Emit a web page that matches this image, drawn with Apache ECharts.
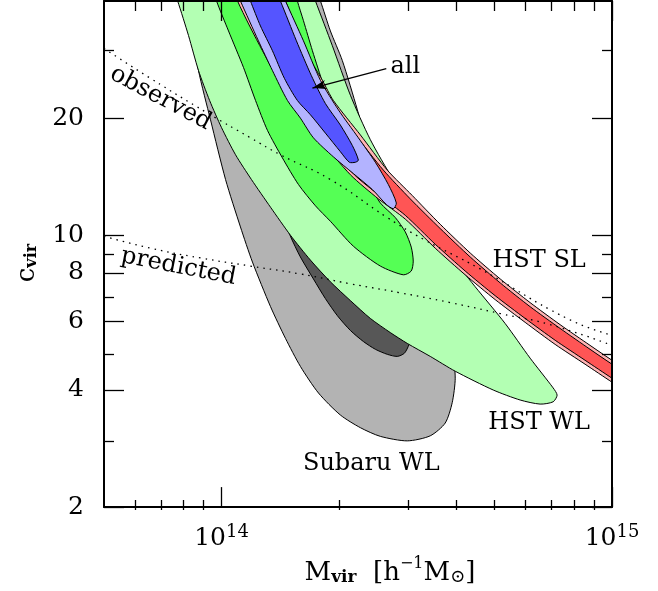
<!DOCTYPE html>
<html><head><meta charset="utf-8">
<script src="https://cdn.jsdelivr.net/npm/echarts@6/dist/echarts.min.js"></script>
<style>html,body{margin:0;padding:0;background:#fff}#c{width:658px;height:591px}</style>
</head><body><div id="c"></div>
<script>
// ---- data (M in units of 1e14 h^-1 Msun, c_vir) ----
const MASS_UNIT = 1e14;
const xMin = 5e13, xMax = 1e15, yMin = 2, yMax = 40;
const yMajorTicks = [2, 4, 6, 8, 10, 20];
const yMinorTicks = [3, 5, 7, 9, 30];
const xMajorTicks = [1e14, 1e15];
const xMinorTicks = [6e13, 7e13, 8e13, 9e13, 2e14, 3e14, 4e14, 5e14, 6e14, 7e14, 8e14, 9e14];

const subaruOuterM = [0.799, 0.828, 0.848, 0.873, 0.937, 1.024, 1.118, 1.200, 1.335, 1.458, 1.592, 1.771, 2.015, 2.268, 2.551, 2.990, 3.424, 3.740, 3.897, 3.967, 3.897, 3.631, 3.325, 2.955, 2.627, 2.377, 2.228, 2.039, 1.900, 1.792, 1.660];
const subaruOuterC = [49.1, 40, 32.6, 26.5, 19.8, 13.9, 10.5, 8.53, 6.55, 5.43, 4.60, 3.93, 3.45, 3.20, 3.04, 2.96, 3.05, 3.29, 3.71, 4.29, 5.12, 6.48, 8.19, 10.4, 13.1, 16.6, 21.0, 28.1, 33.5, 40, 49.1];
const subaruInnerM = [1.501, 1.592, 1.719, 1.845, 1.980, 2.138, 2.308, 2.477, 2.658, 2.819, 2.938, 3.008, 3.043, 2.904, 2.627, 2.268, 1.957, 1.689, 1.484, 1.350, 1.319, 1.374];
const subaruInnerC = [9.94, 8.79, 7.72, 6.87, 6.21, 5.69, 5.33, 5.09, 4.94, 4.88, 4.97, 5.18, 5.43, 6.48, 7.95, 9.77, 11.65, 13.5, 15.2, 15.6, 14.7, 12.4];
const hstwlOuterM = [0.719, 0.772, 0.823, 0.873, 0.932, 1.000, 1.086, 1.193, 1.335, 1.501, 1.689, 1.900, 2.138, 2.405, 2.705, 2.990, 3.424, 3.967, 4.963, 5.818, 6.545, 7.067, 7.235, 7.067, 6.170, 5.325, 4.463, 3.740, 3.190, 2.754, 2.405, 2.138, 1.922, 1.740, 1.611];
const hstwlOuterC = [49.1, 40.0, 32.6, 26.5, 22.2, 18.9, 16.1, 13.9, 11.8, 10.0, 8.63, 7.59, 6.79, 6.11, 5.62, 5.27, 4.88, 4.47, 4.00, 3.77, 3.68, 3.73, 3.88, 4.05, 4.83, 5.93, 7.37, 9.21, 11.3, 13.9, 17.6, 22.9, 30.7, 40.0, 49.1];
const hstwlInnerM = [0.910, 0.971, 1.042, 1.138, 1.222, 1.311, 1.432, 1.574, 1.740, 1.900, 2.176, 2.551, 2.921, 3.061, 3.097, 3.061, 2.955, 2.786, 2.551, 2.377, 2.202, 2.051, 1.934, 1.824, 1.709, 1.621, 1.564, 1.484];
const hstwlInnerC = [49.1, 40, 33.5, 27.0, 22.2, 18.6, 15.8, 13.5, 11.9, 10.86, 9.37, 8.33, 7.91, 8.09, 8.58, 9.32, 10.2, 11.1, 12.1, 13.65, 15.2, 17.6, 20.4, 24.3, 29.8, 35.6, 40, 49.1];
const hstslOuterM = [1.024, 1.099, 1.273, 1.501, 1.792, 2.138, 2.521, 2.955, 3.526, 4.207, 5.021, 5.992, 7.151, 8.531, 10, 11.80, 11.80, 10, 8.785, 7.362, 6.170, 5.172, 4.334, 3.631, 3.079, 2.658, 2.268, 1.934, 1.813, 1.640, 1.458, 1.335];
const hstslOuterC = [49.1, 40, 29.8, 22.2, 17.6, 14.3, 12.4, 11.0, 9.26, 7.91, 6.83, 5.97, 5.24, 4.66, 4.19, 3.77, 4.29, 4.77, 5.21, 5.89, 6.71, 7.72, 9.00, 10.67, 12.65, 14.7, 18.1, 22.2, 25.0, 29.8, 40, 49.1];
const hstslInnerM = [1.061, 1.138, 1.319, 1.537, 1.834, 2.189, 2.551, 2.955, 3.526, 4.207, 5.021, 5.992, 7.151, 8.531, 10, 11.80, 11.80, 10, 8.785, 7.362, 6.170, 5.172, 4.334, 3.631, 3.043, 2.597, 2.202, 1.878, 1.771, 1.611, 1.432, 1.311];
const hstslInnerC = [49.1, 40, 29.8, 22.2, 17.6, 14.3, 12.6, 11.25, 9.48, 8.09, 6.99, 6.11, 5.37, 4.77, 4.29, 3.86, 4.19, 4.66, 5.09, 5.76, 6.55, 7.54, 8.79, 10.4, 12.4, 14.7, 18.1, 22.2, 25.0, 29.8, 40, 49.1];
const allOuterM = [1.335, 1.458, 1.621, 1.792, 1.992, 2.241, 2.477, 2.674, 2.803, 2.754, 2.642, 2.434, 2.176, 1.934, 1.719, 1.592, 1.475, 1.350, 1.243, 1.118, 1.024];
const allOuterC = [49.1, 40, 31.6, 25.0, 21.0, 17.8, 15.4, 13.5, 12.1, 11.7, 12.0, 13.1, 14.4, 15.9, 17.8, 20.0, 22.2, 26.5, 31.6, 40, 49.1];
const allInnerM = [1.296, 1.415, 1.555, 1.699, 1.845, 2.015, 2.163, 2.241, 2.202, 2.125, 2.015, 1.845, 1.689, 1.564, 1.449, 1.350, 1.258, 1.186, 1.099];
const allInnerC = [49.1, 40, 31.6, 25.7, 21.8, 19.2, 17.0, 15.6, 15.4, 15.4, 16.4, 18.3, 20.4, 22.2, 25.3, 29.8, 34.5, 40, 49.1];

const observedM = [0.5, 0.658, 0.921, 1.186, 1.415, 1.900, 2.658, 3.286, 4.597, 7.673, 10];
const observedC = [30.2, 25.3, 20.6, 17.8, 16.1, 13.9, 11.1, 9.77, 8.19, 6.11, 5.53];
const predictedM = [0.5, 0.658, 0.884, 1.186, 1.592, 2.138, 2.870, 3.852, 5.172, 6.943, 10];
const predictedC = [9.94, 9.26, 8.74, 8.33, 7.95, 7.50, 7.11, 6.71, 6.29, 5.89, 5.21];

const arrowM = [2.642, 1.709];
const arrowC = [26.8, 23.9];

const labelTexts = ['all', 'HST SL', 'HST WL', 'Subaru WL', 'observed', 'predicted'];
const labelM = [2.955, 6.506, 6.506, 2.419, 0.698, 0.776];
const labelC = [27.1, 8.58, 3.29, 2.59, 22.5, 8.29];
const labelAngle = [0, 0, 0, 0, -28, -11];

// ---- chart ----
const L = Math.log10;
const FONT = 'DejaVu Serif';
const contours = [
  { m: subaruOuterM, c: subaruOuterC, fill: '#b3b3b3' },
  { m: subaruInnerM, c: subaruInnerC, fill: '#575757' },
  { m: hstwlOuterM, c: hstwlOuterC, fill: '#b3ffb3' },
  { m: hstwlInnerM, c: hstwlInnerC, fill: '#55ff55' },
  { m: hstslOuterM, c: hstslOuterC, fill: '#ffb3b3' },
  { m: hstslInnerM, c: hstslInnerC, fill: '#ff5555' },
  { m: allOuterM, c: allOuterC, fill: '#b3b3ff' },
  { m: allInnerM, c: allInnerC, fill: '#5555ff' }
];
const toXY = (m, c) => [L(m * MASS_UNIT), L(c)];

function mkX(gi, pos, ticks, len, labels, line) {
  return {
    type: 'value', gridIndex: gi, position: pos, min: L(xMin), max: L(xMax), z: 10,
    axisLine: { show: line, onZero: false, lineStyle: { color: '#000', width: 2 } },
    axisTick: { show: true, inside: true, length: len, customValues: ticks.map(L), lineStyle: { color: '#000', width: 1.3 } },
    axisLabel: labels ? {
      show: true, customValues: ticks.map(L), margin: 16,
      formatter: v => '{a|10}{b|' + Math.round(v) + '}',
      rich: {
        a: { fontFamily: FONT, fontSize: 25, color: '#000', lineHeight: 28, verticalAlign: 'bottom' },
        b: { fontFamily: FONT, fontSize: 18, color: '#000', lineHeight: 18, verticalAlign: 'top' }
      }
    } : { show: false },
    splitLine: { show: false },
    name: labels && pos === 'bottom' ? '{m|M}{s|vir}{m|  [h}{p|\u22121}{m|M}{o|\u2299}{m|]}' : '',
    nameLocation: 'middle', nameGap: 38,
    nameTextStyle: {
      padding: [0, 0, 0, 64],
      rich: {
        m: { fontFamily: FONT, fontSize: 26, color: '#000', lineHeight: 30, verticalAlign: 'bottom' },
        s: { fontFamily: FONT, fontSize: 17, fontWeight: 'bold', color: '#000', lineHeight: 14, verticalAlign: 'bottom' },
        p: { fontFamily: FONT, fontSize: 16, color: '#000', lineHeight: 16, verticalAlign: 'top' },
        o: { fontFamily: FONT, fontSize: 18, color: '#000', lineHeight: 14, verticalAlign: 'bottom' }
      }
    }
  };
}
function mkY(gi, pos, ticks, len, labels, line) {
  return {
    type: 'value', gridIndex: gi, position: pos, min: L(yMin), max: L(yMax), z: 10,
    axisLine: { show: line, onZero: false, lineStyle: { color: '#000', width: 2 } },
    axisTick: { show: true, inside: true, length: len, customValues: ticks.map(L), lineStyle: { color: '#000', width: 1.3 } },
    axisLabel: labels ? {
      show: true, customValues: ticks.map(L), margin: 20,
      fontFamily: FONT, fontSize: 25, color: '#000',
      formatter: v => String(Math.round(Math.pow(10, v)))
    } : { show: false },
    splitLine: { show: false },
    name: labels && pos === 'left' ? '{c|c}{s|vir}' : '',
    nameLocation: 'middle', nameGap: 64, nameRotate: 90,
    nameTextStyle: {
      padding: [0, 18, 0, 0],
      rich: {
        c: { fontFamily: FONT, fontSize: 26, color: '#000', lineHeight: 30, verticalAlign: 'bottom' },
        s: { fontFamily: FONT, fontSize: 16, fontWeight: 'bold', color: '#000', lineHeight: 14, verticalAlign: 'bottom' }
      }
    }
  };
}

const gridRect = { left: 104, top: 1, right: 46, bottom: 81 };
const option = {
  animation: false,
  backgroundColor: '#fff',
  grid: [Object.assign({}, gridRect), Object.assign({}, gridRect)],
  xAxis: [
    mkX(0, 'bottom', xMajorTicks, 20, true, true),
    mkX(0, 'top', xMajorTicks, 20, false, true),
    mkX(1, 'bottom', xMinorTicks, 10, false, false),
    mkX(1, 'top', xMinorTicks, 10, false, false)
  ],
  yAxis: [
    mkY(0, 'left', yMajorTicks, 20, true, true),
    mkY(0, 'right', yMajorTicks, 20, false, true),
    mkY(1, 'left', yMinorTicks, 10, false, false),
    mkY(1, 'right', yMinorTicks, 10, false, false)
  ],
  series: [
    {
      type: 'custom', xAxisIndex: 0, yAxisIndex: 0, clip: true, silent: true,
      data: contours.map((_, i) => [i]),
      renderItem: (params, api) => {
        const k = contours[params.dataIndex];
        const pts = k.m.map((m, j) => api.coord(toXY(m, k.c[j])));
        return {
          type: 'polygon',
          shape: { points: pts, smooth: 0.25 },
          style: { fill: k.fill, stroke: '#000', lineWidth: 1 }
        };
      }
    },
    {
      type: 'line', xAxisIndex: 0, yAxisIndex: 0, showSymbol: false, smooth: true, silent: true,
      data: observedM.map((m, i) => toXY(m, observedC[i])),
      lineStyle: { color: '#000', width: 1.3, type: [1.5, 5] }
    },
    {
      type: 'line', xAxisIndex: 0, yAxisIndex: 0, showSymbol: false, smooth: true, silent: true,
      data: predictedM.map((m, i) => toXY(m, predictedC[i])),
      lineStyle: { color: '#000', width: 1.3, type: [1.5, 5] }
    },
    {
      type: 'line', xAxisIndex: 0, yAxisIndex: 0, data: [], silent: true,
      markLine: {
        silent: true, symbol: ['none', 'arrow'], symbolSize: [7, 14], label: { show: false },
        lineStyle: { color: '#000', width: 1.3, type: 'solid' },
        data: [[{ coord: toXY(arrowM[0], arrowC[0]) }, { coord: toXY(arrowM[1], arrowC[1]) }]]
      }
    }
  ]
};

const chart = echarts.init(document.getElementById('c'));
chart.setOption(option);
const graphics = labelTexts.map((t, i) => {
  const p = chart.convertToPixel({ gridIndex: 0 }, toXY(labelM[i], labelC[i]));
  return {
    type: 'text', x: p[0], y: p[1], rotation: labelAngle[i] * Math.PI / 180, z: 20,
    style: { text: t, fontFamily: FONT, fontSize: 24, fill: '#000', align: 'center', verticalAlign: 'middle' }
  };
});
chart.setOption({ graphic: graphics });
</script></body></html>
